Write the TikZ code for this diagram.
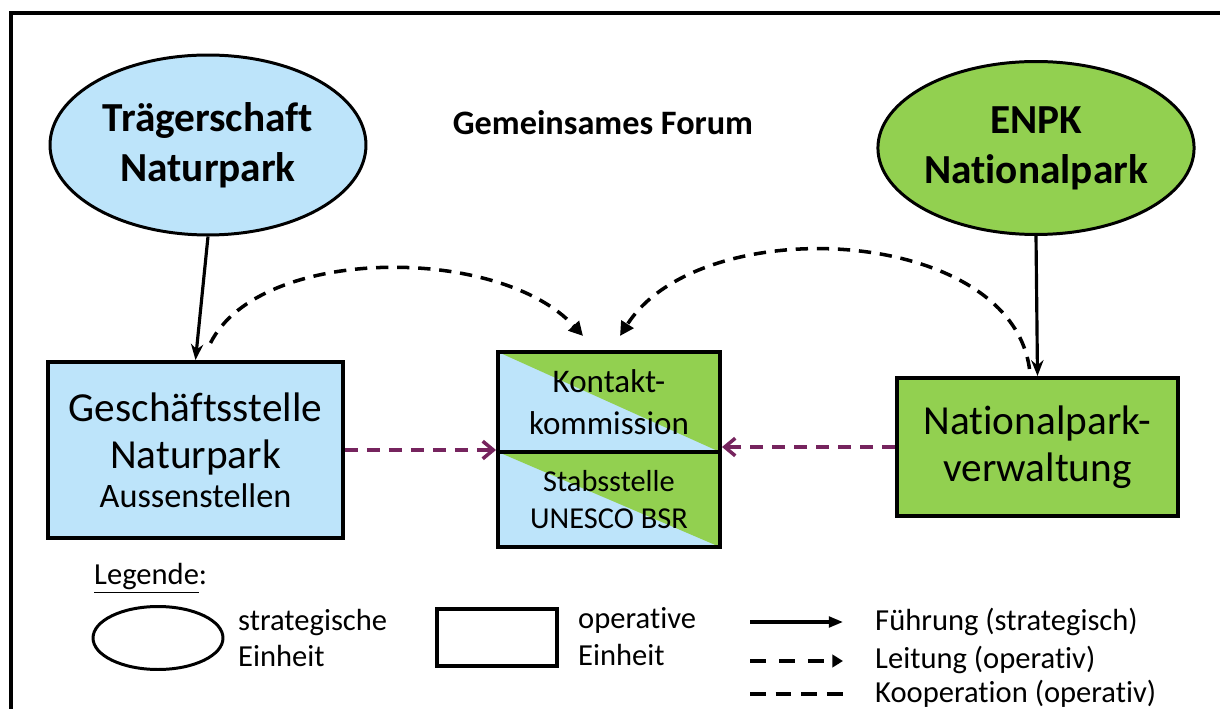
\documentclass[tikz,border=0pt]{standalone}
\usepackage{fontspec}
\setmainfont{Carlito}[Ligatures=NoCommon]
\usepackage{tikz}
\usetikzlibrary{arrows.meta, positioning, shapes.geometric}
\definecolor{npblue}{RGB}{189,228,250}
\definecolor{npgreen}{RGB}{146,208,80}
\definecolor{nppurple}{RGB}{118,36,94}
\tikzset{
  %% ---- units ----
  stratunit/.style = {ellipse, draw=black, line width=1.7pt,
                   fill=#1, align=center, inner sep=0pt,
                   font=\fontsize{23.5}{28.5}\selectfont\bfseries},
  stratunit/.default = white,
  opunit/.style  = {rectangle, draw=black, line width=2.3pt,
                   fill=#1, align=center,
                   font=\fontsize{23.5}{27}\selectfont},
  opunit/.default = white,
  splitunit/.style = {rectangle, draw=black, line width=2.3pt,
                   fill=npblue, align=center, minimum width=4.44cm,
                   font=\fontsize{18.8}{24}\selectfont,
                   path picture={\fill[npgreen]
                     (path picture bounding box.north west) --
                     (path picture bounding box.north east) --
                     (path picture bounding box.south east) -- cycle;}},
  lgtext/.style  = {anchor=west, align=left,
                   font=\fontsize{17.4}{21}\selectfont},
  %% ---- arrows ----
  fuehrung/.style = {-{Stealth[length=9pt, width=7pt]}, line width=1.8pt},
  leitung/.style  = {-{Triangle[length=8pt, width=8pt]}, line width=2pt,
                   dash pattern=on 7pt off 5pt},
  koop/.style     = {-{Straight Barb[length=6pt, width=10pt]}, nppurple,
                   line width=2pt, dash pattern=on 7.5pt off 5pt},
  koopline/.style = {line width=2.2pt, dash pattern=on 9pt off 5.6pt},
}

\begin{document}
\begin{tikzpicture}[x=0.02cm, y=-0.02cm]

  \useasboundingbox (0,0) rectangle (1220,709);

  %% Frame
  \draw[line width=1.8pt] (11,720) -- (11,13) -- (1230,13);

  %% Strategic units
  \node[stratunit=npblue, minimum width=6.32cm, minimum height=3.6cm]
    (traeger) at (208,145) {Trägerschaft\\Naturpark};
  \node[stratunit=npgreen, minimum width=6.24cm, minimum height=3.46cm]
    (enpk) at (1036,148) {ENPK\\Nationalpark};

  \node[font=\fontsize{19.5}{22}\selectfont\bfseries] (forum) at (603,123)
    {Gemeinsames Forum};

  %% Operative units
  \node[opunit=npblue, minimum width=5.9cm, minimum height=3.52cm]
    (gst) at (195.5,450)
    {Geschäftsstelle\\Naturpark\\[-5pt]{\fontsize{19.5}{22}\selectfont Aussenstellen}};
  \node[splitunit, minimum height=2cm] (kontakt) at (609,402)
    {Kontakt-\\kommission};
  \node[splitunit, minimum height=1.9cm, font=\fontsize{17.3}{21}\selectfont]
    (stabs) at (609,499.5) {Stabsstelle\\UNESCO BSR};
  \node[opunit=npgreen, minimum width=5.62cm, minimum height=2.76cm]
    (npv) at (1037.5,447) {Nationalpark-\\verwaltung};

  %% Fuehrung
  \draw[fuehrung] (traeger.south) -- (gst.north);
  \draw[fuehrung] (enpk.south) -- (npv.north);

  %% Leitung
  \draw[leitung] ([shift={(15,-17)}]gst.north)
    .. controls (260,245) and (500,245) .. ([shift={(-26,-14)}]kontakt.north);
  \draw[leitung] ([shift={(-8,-7)}]npv.north)
    .. controls (1010,225) and (700,210) .. ([shift={(11,-14)}]kontakt.north);

  %% Kooperation
  \draw[koop] (gst.east) -- (gst.east -| kontakt.west);
  \draw[koop] (npv.west) -- (npv.west -| kontakt.east);

  %% Legend
  \node[anchor=west, font=\fontsize{17.4}{20}\selectfont] (lg) at (88,578)
    {\underline{Legende}:};
  \node[ellipse, draw=black, line width=1.7pt, minimum width=2.6cm,
    minimum height=1.26cm] (lgell) at (158,638) {};
  \node[lgtext] (lgstrat) at (232,638) {strategische\\Einheit};
  \node[rectangle, draw=black, line width=2.3pt, minimum width=2.4cm,
    minimum height=1.14cm] (lgbox) at (497,637.5) {};
  \node[lgtext] (lgop) at (572,637) {operative\\Einheit};

  \node[lgtext] (lgfue) at (869,622) {Führung (strategisch)};
  \node[lgtext] (lglei) at (869,660) {Leitung (operativ)};
  \node[lgtext] (lgkoo) at (869,694) {Kooperation (operativ)};
  \coordinate (f1) at (750,622);
  \coordinate (f2) at (843,622);
  \coordinate (l1) at (750,661);
  \coordinate (l2) at (843,661);
  \coordinate (k1) at (750,694);
  \coordinate (k2) at (843,694);
  \draw[fuehrung, -{Triangle[length=8pt, width=6pt]}] (f1) -- (f2);
  \draw[koopline, dash pattern=on 9pt off 7.5pt,
    -{Triangle[length=6pt, width=7pt]}] (l1) -- (l2);
  \draw[koopline] (k1) -- (k2);

\end{tikzpicture}
\end{document}
